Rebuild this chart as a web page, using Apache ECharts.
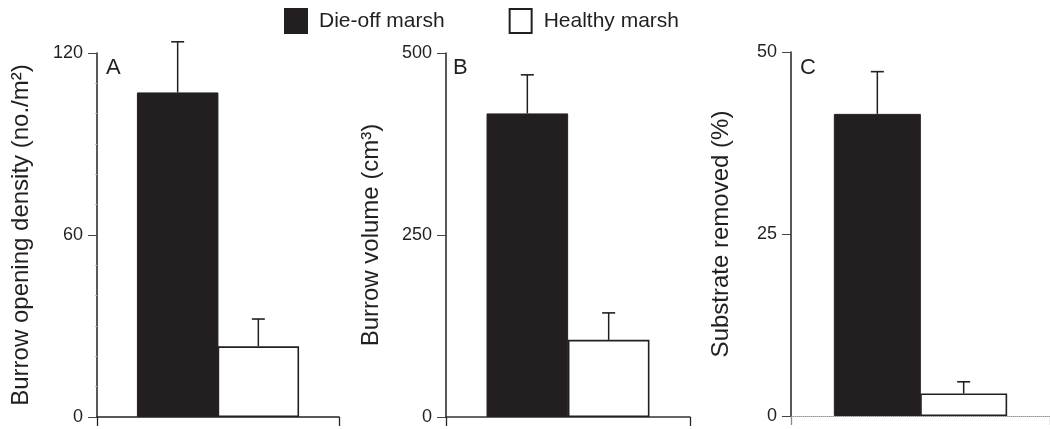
<!DOCTYPE html>
<html>
<head>
<meta charset="utf-8">
<script src="https://cdn.jsdelivr.net/npm/echarts@6/dist/echarts.min.js"></script>
<style>html,body{margin:0;padding:0;background:#fff}#c{width:1050px;height:429px}</style>
</head>
<body>
<div id="c"></div>
<script>
// ---- data ----
const categories = ['Die-off marsh', 'Healthy marsh'];
const panelLetters = ['A', 'B', 'C'];
const axisTitles = ['Burrow opening density (no./m\u00B2)', 'Burrow volume (cm\u00B3)', 'Substrate removed (%)'];
const dieoffMeans = [107, 417, 41.5];
const healthyMeans = [23.3, 106, 3.1];
const dieoffErrors = [16.7, 53, 5.8];
const healthyErrors = [9, 37, 1.6];
const yMax = [120, 500, 50];
const yInterval = [60, 250, 25];

// ---- layout ----
const FONT = 'Liberation Sans, Arial, Helvetica, sans-serif';
const INK = '#231f20';
const grids = [
  {left: 97, top: 53, width: 242, height: 364},
  {left: 446, top: 53, width: 244, height: 364},
  {left: 791, top: 52, width: 262, height: 364}
];
const barWidths = [81.5, 81.6, 87];
const nameGaps = [64, 63, 58];
const xAxisColors = ['#222', '#333', '#999'];

const option = {
  animation: false,
  backgroundColor: '#fff',
  textStyle: {fontFamily: FONT, fontSize: 17},
  legend: {
    data: categories,
    left: 279, top: 3,
    icon: 'rect', itemWidth: 22, itemHeight: 24, itemGap: 64,
    textStyle: {fontFamily: FONT, fontSize: 21, color: INK, padding: [0, 0, 0, 7]},
    selectedMode: false
  },
  title: panelLetters.map((t, i) => ({
    text: t,
    left: [101, 448, 795][i], top: 52,
    textStyle: {fontFamily: FONT, fontSize: 22, fontWeight: 'normal', color: INK}
  })),
  grid: grids.map(g => Object.assign({containLabel: false}, g)),
  xAxis: grids.map((g, i) => ({
    type: 'value', gridIndex: i, min: 0, max: 3, interval: 3,
    axisLine: {show: true, lineStyle: {color: xAxisColors[i], width: i === 2 ? 1 : 1.5, type: i === 2 ? 'dotted' : 'solid'}},
    axisTick: {show: true, inside: false, length: 9, lineStyle: {color: i === 2 ? '#888' : '#222', width: 1.3}},
    axisLabel: {show: false},
    splitLine: {show: false}
  })),
  yAxis: grids.map((g, i) => ({
    type: 'value', gridIndex: i, min: 0, max: yMax[i], interval: yInterval[i],
    name: axisTitles[i], nameLocation: 'middle', nameGap: nameGaps[i],
    nameTextStyle: {fontFamily: FONT, fontSize: 24, color: INK},
    axisLine: {show: true, lineStyle: {color: '#222', width: 1.5}},
    axisTick: {show: true, inside: false, length: 9, lineStyle: {color: '#444', width: 1}},
    minorTick: {show: i === 0, splitNumber: 6, length: 2, lineStyle: {color: '#bbb'}},
    axisLabel: {
      show: true, margin: 14,
      formatter: '{t|{value}}',
      rich: {t: {fontFamily: FONT, fontSize: 18, color: INK}}
    },
    splitLine: {show: false}
  })),
  series: []
};

for (let i = 0; i < 3; i++) {
  option.series.push({
    name: categories[0], type: 'bar', xAxisIndex: i, yAxisIndex: i,
    barWidth: barWidths[i], z: 3,
    itemStyle: {color: INK, borderColor: INK, borderWidth: 1},
    data: [[1, dieoffMeans[i]]]
  });
  option.series.push({
    name: categories[1], type: 'bar', xAxisIndex: i, yAxisIndex: i,
    barWidth: barWidths[i], barGap: '-100%', z: 3,
    itemStyle: {color: '#fff', borderColor: INK, borderWidth: 1.6},
    data: [[2, healthyMeans[i]]]
  });
  option.series.push({
    type: 'custom', xAxisIndex: i, yAxisIndex: i, z: 4, clip: false,
    data: [[1, dieoffMeans[i], dieoffErrors[i]], [2, healthyMeans[i], healthyErrors[i]]],
    renderItem: function (params, api) {
      const x = api.value(0), m = api.value(1), e = api.value(2);
      const p0 = api.coord([x, m]);
      const p1 = api.coord([x, m + e]);
      const cap = 6.5;
      return {
        type: 'group',
        children: [
          {type: 'line', shape: {x1: p0[0], y1: p0[1], x2: p1[0], y2: p1[1]}, style: {stroke: INK, lineWidth: 1.5}},
          {type: 'line', shape: {x1: p1[0] - cap, y1: p1[1], x2: p1[0] + cap, y2: p1[1]}, style: {stroke: INK, lineWidth: 1.6}}
        ]
      };
    }
  });
}

const chart = echarts.init(document.getElementById('c'), null, {renderer: 'canvas'});
chart.setOption(option);
</script>
</body>
</html>
